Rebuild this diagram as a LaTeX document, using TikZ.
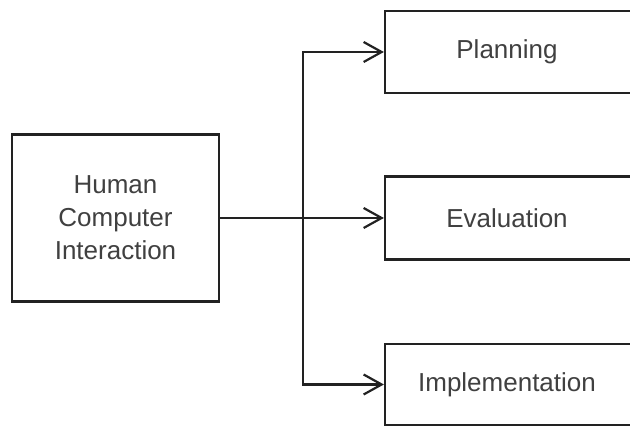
\documentclass[tikz,border=0pt]{standalone}
\usepackage{fontspec}
\setmainfont{Liberation Sans}
\usetikzlibrary{arrows.meta}
\definecolor{linec}{HTML}{222222}
\definecolor{textc}{HTML}{404040}
\begin{document}
\begin{tikzpicture}[x=1pt,y=-1pt,
  box/.style={draw=linec, line width=2.2pt, fill=white, inner sep=0pt,
    text=textc, font=\fontsize{26}{33}\selectfont, align=center},
  lbl/.style={text=textc, font=\fontsize{26}{33}\selectfont},
  conn/.style={draw=linec, line width=2.2pt},
  arr/.style={conn, -{Straight Barb[length=18pt,width=20pt,line width=2.2pt]}}]
\useasboundingbox (0,0) rectangle (630,427);
\clip (0,0) rectangle (630,427);
\node[box, minimum width=207pt, minimum height=167pt] (hci) at (115.5,218) {Human\\Computer\\Interaction};
\node[box, minimum width=248pt, minimum height=82pt] (plan) at (509,52) {};
\node[box, minimum width=248pt, minimum height=83pt] (eval) at (509,218) {};
\node[box, minimum width=248pt, minimum height=81pt] (impl) at (509,384.5) {};
\node[lbl] (tplan) at (507,52) {Planning};
\node[lbl] (teval) at (507,218) {Evaluation};
\node[lbl] (timpl) at (507,384.5) {Implementation};
\coordinate (j) at (303,218);
\draw[arr] (hci.east) -- (eval.west);
\draw[arr] (j) |- (plan.west);
\draw[arr] (j) |- (impl.west);
\end{tikzpicture}
\end{document}
